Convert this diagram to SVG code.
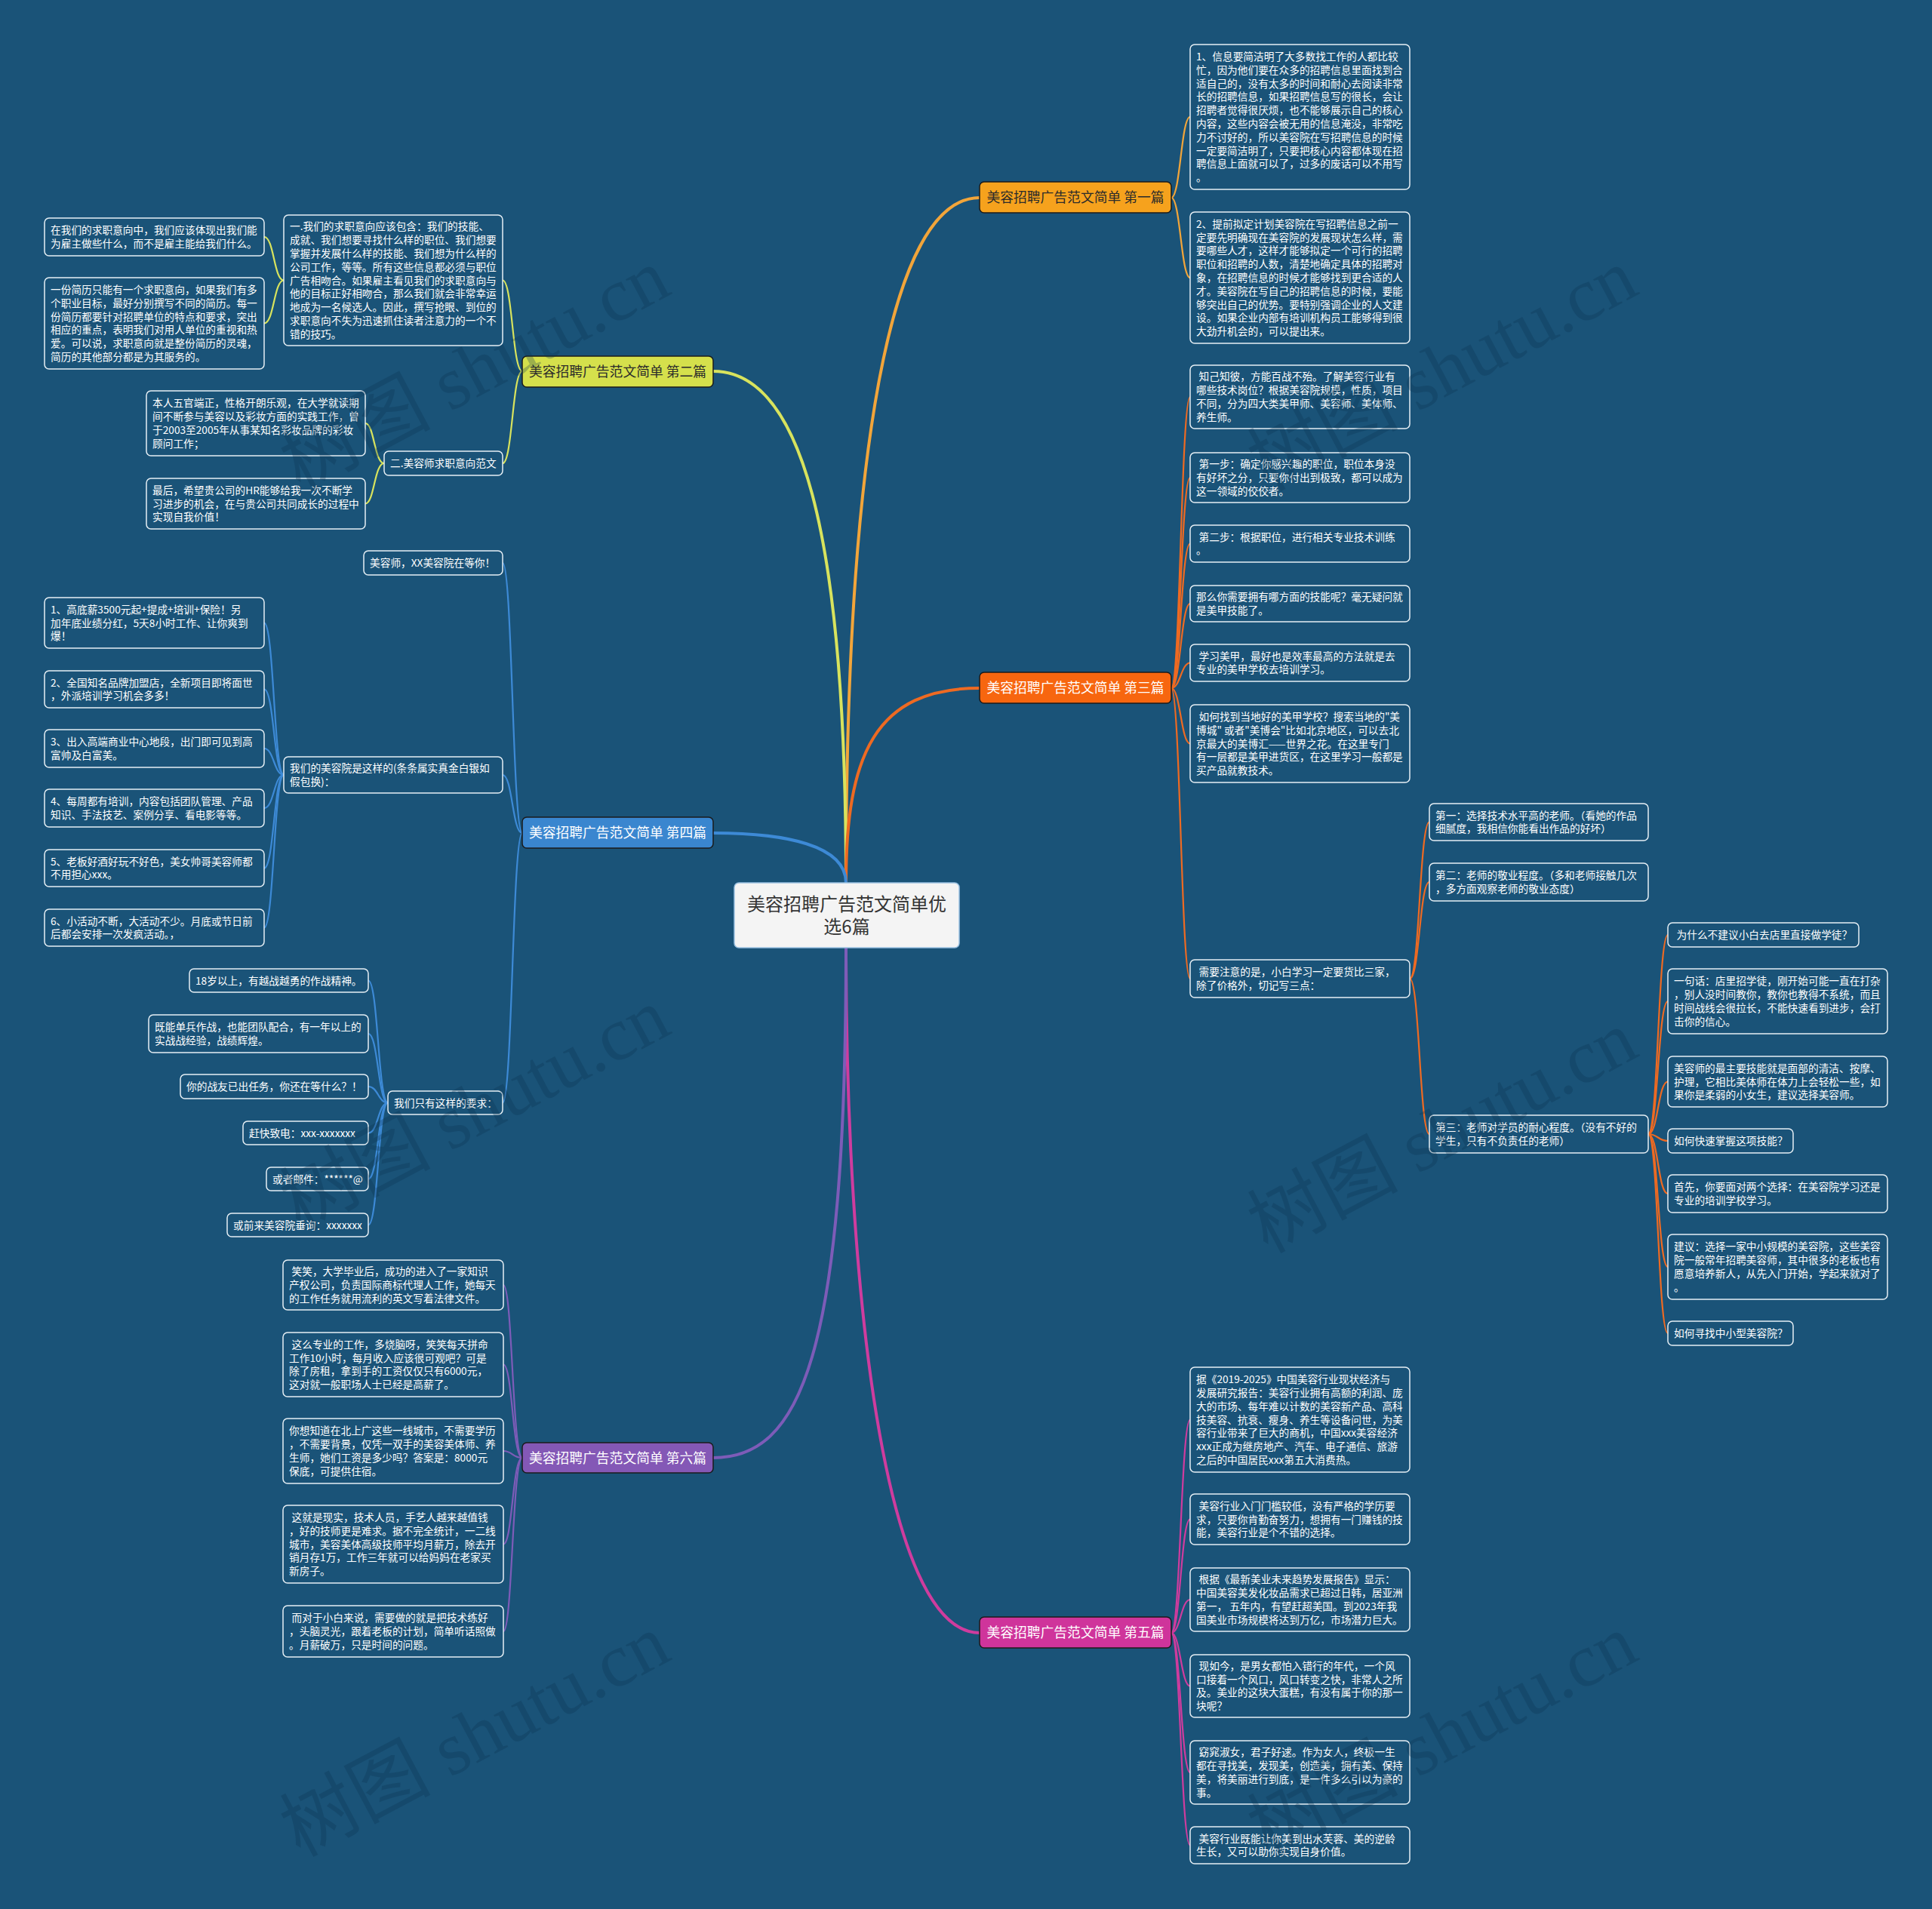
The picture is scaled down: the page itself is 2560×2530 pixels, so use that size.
<svg xmlns="http://www.w3.org/2000/svg" width="2560" height="2530" viewBox="0 0 2560 2530">
<style>
.t{font-family:"Noto Sans CJK SC","Microsoft YaHei",sans-serif;font-size:13.7px;fill:#ffffff}
.lf{fill:#1a5378;stroke:#e6eff5;stroke-width:1.5}
.br{stroke:#1b1b1b;stroke-width:1.5}
.bt{font-family:"Noto Sans CJK SC","Microsoft YaHei",sans-serif;font-size:17.8px;text-anchor:middle}
.ct{font-family:"Noto Sans CJK SC","Microsoft YaHei",sans-serif;font-size:24px;fill:#333333;text-anchor:middle}
#connectors path{fill:none;stroke-linecap:round}
.m{stroke-width:4}
.s{stroke-width:2.2}
.c1{stroke:#f2a53a}.c2{stroke:#d8e35d}.c3{stroke:#ee6a22}.c4{stroke:#3d8ad6}.c5{stroke:#cf3c9e}.c6{stroke:#7d5cb8}
.wm{font-family:"Liberation Serif","Noto Sans CJK SC",serif;font-size:100px;fill:#0c3350;fill-opacity:0.28}
</style>
<rect width="2560" height="2530" fill="#1a5378"/>

<g id="connectors">
<path class="m c1" d="M1121 1170 C1121 600 1180 262 1298 262"/>
<path class="m c2" d="M1121 1170 C1121 700 1060 492 945 492"/>
<path class="m c3" d="M1121 1170 C1121 1000 1160 912 1298 912"/>
<path class="m c4" d="M1121 1170 C1121 1120 1040 1104 945 1104"/>
<path class="m c5" d="M1121 1256 C1121 1700 1170 2164 1298 2164"/>
<path class="m c6" d="M1121 1256 C1121 1800 1060 1932 945 1932"/>

<path class="s c1" d="M1552 262 C1564 262 1565 155 1577 155"/>
<path class="s c1" d="M1552 262 C1564 262 1565 368 1577 368"/>

<path class="s c2" d="M692 492 C679 492 679 371.5 666 371.5"/>
<path class="s c2" d="M692 492 C679 492 679 614 666 614"/>
<path class="s c2" d="M376 371.5 C363 371.5 363 314 350 314"/>
<path class="s c2" d="M376 371.5 C363 371.5 363 428.5 350 428.5"/>
<path class="s c2" d="M509 614 C496 614 496 561 484 561"/>
<path class="s c2" d="M509 614 C496 614 496 667.5 484 667.5"/>

<path class="s c3" d="M1552 912 C1564 912 1565 526 1577 526"/>
<path class="s c3" d="M1552 912 C1564 912 1565 633 1577 633"/>
<path class="s c3" d="M1552 912 C1564 912 1565 720.5 1577 720.5"/>
<path class="s c3" d="M1552 912 C1564 912 1565 800 1577 800"/>
<path class="s c3" d="M1552 912 C1564 912 1565 878.5 1577 878.5"/>
<path class="s c3" d="M1552 912 C1564 912 1565 985.5 1577 985.5"/>
<path class="s c3" d="M1552 912 C1564 912 1565 1297 1577 1297"/>
<path class="s c3" d="M1868 1297 C1881 1297 1881 1089.5 1894 1089.5"/>
<path class="s c3" d="M1868 1297 C1881 1297 1881 1169 1894 1169"/>
<path class="s c3" d="M1868 1297 C1881 1297 1881 1503 1894 1503"/>
<path class="s c3" d="M2184 1503 C2197 1503 2197 1239 2210 1239"/>
<path class="s c3" d="M2184 1503 C2197 1503 2197 1327 2210 1327"/>
<path class="s c3" d="M2184 1503 C2197 1503 2197 1433.5 2210 1433.5"/>
<path class="s c3" d="M2184 1503 C2197 1503 2197 1512 2210 1512"/>
<path class="s c3" d="M2184 1503 C2197 1503 2197 1582 2210 1582"/>
<path class="s c3" d="M2184 1503 C2197 1503 2197 1679 2210 1679"/>
<path class="s c3" d="M2184 1503 C2197 1503 2197 1767 2210 1767"/>

<path class="s c4" d="M692 1104 C679 1104 679 746 666 746"/>
<path class="s c4" d="M692 1104 C679 1104 679 1027 666 1027"/>
<path class="s c4" d="M692 1104 C679 1104 679 1461.5 666 1461.5"/>
<path class="s c4" d="M376 1027 C363 1027 363 825.5 350 825.5"/>
<path class="s c4" d="M376 1027 C363 1027 363 913.5 350 913.5"/>
<path class="s c4" d="M376 1027 C363 1027 363 992 350 992"/>
<path class="s c4" d="M376 1027 C363 1027 363 1071 350 1071"/>
<path class="s c4" d="M376 1027 C363 1027 363 1150.5 350 1150.5"/>
<path class="s c4" d="M376 1027 C363 1027 363 1229.5 350 1229.5"/>
<path class="s c4" d="M514 1461.5 C501 1461.5 501 1299.5 488 1299.5"/>
<path class="s c4" d="M514 1461.5 C501 1461.5 501 1370 488 1370"/>
<path class="s c4" d="M514 1461.5 C501 1461.5 501 1440 488 1440"/>
<path class="s c4" d="M514 1461.5 C501 1461.5 501 1501.5 488 1501.5"/>
<path class="s c4" d="M514 1461.5 C501 1461.5 501 1562.5 488 1562.5"/>
<path class="s c4" d="M514 1461.5 C501 1461.5 501 1623.5 488 1623.5"/>

<path class="s c5" d="M1552 2164 C1564 2164 1565 1881.5 1577 1881.5"/>
<path class="s c5" d="M1552 2164 C1564 2164 1565 2013.5 1577 2013.5"/>
<path class="s c5" d="M1552 2164 C1564 2164 1565 2120 1577 2120"/>
<path class="s c5" d="M1552 2164 C1564 2164 1565 2234.5 1577 2234.5"/>
<path class="s c5" d="M1552 2164 C1564 2164 1565 2349 1577 2349"/>
<path class="s c5" d="M1552 2164 C1564 2164 1565 2445.5 1577 2445.5"/>

<path class="s c6" d="M692 1932 C679 1932 679 1703 667 1703"/>
<path class="s c6" d="M692 1932 C679 1932 679 1808.5 667 1808.5"/>
<path class="s c6" d="M692 1932 C679 1932 679 1923 667 1923"/>
<path class="s c6" d="M692 1932 C679 1932 679 2046.5 667 2046.5"/>
<path class="s c6" d="M692 1932 C679 1932 679 2162 667 2162"/>
</g>

<g id="center">
<rect x="973" y="1170" width="298" height="86" rx="6" fill="#f4f4f4" stroke="#9cc2e2" stroke-width="1.5"/>
<text class="ct" x="1122" y="1207">美容招聘广告范文简单优</text>
<text class="ct" x="1122" y="1237">选6篇</text>
</g>

<g id="branch1"><rect class="br" x="1298" y="241" width="254" height="41" rx="6" fill="#f6a21d"/><text class="bt" x="1425" y="268" fill="#2b2b2b">美容招聘广告范文简单 第一篇</text></g>
<g id="branch2"><rect class="br" x="692" y="472" width="253" height="41" rx="6" fill="#d5e04c"/><text class="bt" x="818.5" y="499" fill="#2b2b2b">美容招聘广告范文简单 第二篇</text></g>
<g id="branch3"><rect class="br" x="1298" y="891" width="254" height="41" rx="6" fill="#f7660f"/><text class="bt" x="1425" y="918" fill="#ffffff">美容招聘广告范文简单 第三篇</text></g>
<g id="branch4"><rect class="br" x="692" y="1083" width="253" height="41" rx="6" fill="#3a86cf"/><text class="bt" x="818.5" y="1110" fill="#ffffff">美容招聘广告范文简单 第四篇</text></g>
<g id="branch5"><rect class="br" x="1298" y="2143" width="254" height="41" rx="6" fill="#cf349b"/><text class="bt" x="1425" y="2170" fill="#ffffff">美容招聘广告范文简单 第五篇</text></g>
<g id="branch6"><rect class="br" x="692" y="1912" width="253" height="40" rx="6" fill="#8458b6"/><text class="bt" x="818.5" y="1938.5" fill="#ffffff">美容招聘广告范文简单 第六篇</text></g>

<g id="s1-a"><rect class="lf" x="1577" y="59" width="291" height="192" rx="6"/><text class="t"><tspan x="1585" y="79.9">1、信息要简洁明了大多数找工作的人都比较</tspan><tspan x="1585" y="97.7">忙，因为他们要在众多的招聘信息里面找到合</tspan><tspan x="1585" y="115.5">适自己的，没有太多的时间和耐心去阅读非常</tspan><tspan x="1585" y="133.3">长的招聘信息，如果招聘信息写的很长，会让</tspan><tspan x="1585" y="151.1">招聘者觉得很厌烦，也不能够展示自己的核心</tspan><tspan x="1585" y="168.9">内容，这些内容会被无用的信息淹没，非常吃</tspan><tspan x="1585" y="186.7">力不讨好的，所以美容院在写招聘信息的时候</tspan><tspan x="1585" y="204.5">一定要简洁明了，只要把核心内容都体现在招</tspan><tspan x="1585" y="222.3">聘信息上面就可以了，过多的废话可以不用写</tspan><tspan x="1585" y="240.1">。</tspan></text></g>
<g id="s1-b"><rect class="lf" x="1577" y="281" width="291" height="174" rx="6"/><text class="t"><tspan x="1585" y="301.8">2、提前拟定计划美容院在写招聘信息之前一</tspan><tspan x="1585" y="319.6">定要先明确现在美容院的发展现状怎么样，需</tspan><tspan x="1585" y="337.4">要哪些人才，这样才能够拟定一个可行的招聘</tspan><tspan x="1585" y="355.2">职位和招聘的人数，清楚地确定具体的招聘对</tspan><tspan x="1585" y="373">象，在招聘信息的时候才能够找到更合适的人</tspan><tspan x="1585" y="390.8">才。美容院在写自己的招聘信息的时候，要能</tspan><tspan x="1585" y="408.6">够突出自己的优势。要特别强调企业的人文建</tspan><tspan x="1585" y="426.4">设。如果企业内部有培训机构员工能够得到很</tspan><tspan x="1585" y="444.2">大劲升机会的，可以提出来。</tspan></text></g>

<g id="s3-c1"><rect class="lf" x="1577" y="484" width="291" height="84" rx="6"/><text class="t"><tspan x="1588.5" y="504.3">知己知彼，方能百战不殆。了解美容行业有</tspan><tspan x="1585" y="522.1">哪些技术岗位？根据美容院规模，性质，项目</tspan><tspan x="1585" y="539.9">不同，分为四大类美甲师、美容师、美体师、</tspan><tspan x="1585" y="557.7">养生师。</tspan></text></g>
<g id="s3-c2"><rect class="lf" x="1577" y="600" width="291" height="66" rx="6"/><text class="t"><tspan x="1588.5" y="620.2">第一步：确定你感兴趣的职位，职位本身没</tspan><tspan x="1585" y="638">有好坏之分，只要你付出到极致，都可以成为</tspan><tspan x="1585" y="655.8">这一领域的佼佼者。</tspan></text></g>
<g id="s3-c3"><rect class="lf" x="1577" y="696" width="291" height="49" rx="6"/><text class="t"><tspan x="1588.5" y="716.6">第二步：根据职位，进行相关专业技术训练</tspan><tspan x="1585" y="734.4">。</tspan></text></g>
<g id="s3-c4"><rect class="lf" x="1577" y="776" width="291" height="48" rx="6"/><text class="t"><tspan x="1585" y="796.1">那么你需要拥有哪方面的技能呢？毫无疑问就</tspan><tspan x="1585" y="813.9">是美甲技能了。</tspan></text></g>
<g id="s3-c5"><rect class="lf" x="1577" y="854" width="291" height="49" rx="6"/><text class="t"><tspan x="1588.5" y="874.6">学习美甲，最好也是效率最高的方法就是去</tspan><tspan x="1585" y="892.4">专业的美甲学校去培训学习。</tspan></text></g>
<g id="s3-c6"><rect class="lf" x="1577" y="934" width="291" height="103" rx="6"/><text class="t"><tspan x="1588.5" y="954.9">如何找到当地好的美甲学校？搜索当地的"美</tspan><tspan x="1585" y="972.7">博城" 或者"美博会"比如北京地区，可以去北</tspan><tspan x="1585" y="990.5">京最大的美博汇——世界之花。在这里专门</tspan><tspan x="1585" y="1008.3">有一层都是美甲进货区，在这里学习一般都是</tspan><tspan x="1585" y="1026.1">买产品就教技术。</tspan></text></g>
<g id="s3-note"><rect class="lf" x="1577" y="1272" width="291" height="50" rx="6"/><text class="t"><tspan x="1588.5" y="1293.1">需要注意的是，小白学习一定要货比三家，</tspan><tspan x="1585" y="1310.9">除了价格外，切记写三点：</tspan></text></g>
<g id="s3-t1"><rect class="lf" x="1894" y="1065" width="290" height="49" rx="6"/><text class="t"><tspan x="1902" y="1085.6">第一：选择技术水平高的老师。（看她的作品</tspan><tspan x="1902" y="1103.4">细腻度，我相信你能看出作品的好坏）</tspan></text></g>
<g id="s3-t2"><rect class="lf" x="1894" y="1144" width="290" height="50" rx="6"/><text class="t"><tspan x="1902" y="1165.1">第二：老师的敬业程度。（多和老师接触几次</tspan><tspan x="1902" y="1182.9">，多方面观察老师的敬业态度）</tspan></text></g>
<g id="s3-t3"><rect class="lf" x="1894" y="1478" width="290" height="50" rx="6"/><text class="t"><tspan x="1902" y="1499.1">第三：老师对学员的耐心程度。（没有不好的</tspan><tspan x="1902" y="1516.9">学生，只有不负责任的老师）</tspan></text></g>
<g id="s3-r1"><rect class="lf" x="2210" y="1223" width="253" height="32" rx="6"/><text class="t"><tspan x="2221.5" y="1244">为什么不建议小白去店里直接做学徒？</tspan></text></g>
<g id="s3-r2"><rect class="lf" x="2210" y="1284" width="291" height="86" rx="6"/><text class="t"><tspan x="2218" y="1305.3">一句话：店里招学徒，刚开始可能一直在打杂</tspan><tspan x="2218" y="1323.1">，别人没时间教你，教你也教得不系统，而且</tspan><tspan x="2218" y="1340.9">时间战线会很拉长，不能快速看到进步，会打</tspan><tspan x="2218" y="1358.7">击你的信心。</tspan></text></g>
<g id="s3-r3"><rect class="lf" x="2210" y="1400" width="291" height="67" rx="6"/><text class="t"><tspan x="2218" y="1420.7">美容师的最主要技能就是面部的清洁、按摩、</tspan><tspan x="2218" y="1438.5">护理，它相比美体师在体力上会轻松一些，如</tspan><tspan x="2218" y="1456.3">果你是柔弱的小女生，建议选择美容师。</tspan></text></g>
<g id="s3-r4"><rect class="lf" x="2210" y="1496" width="166" height="32" rx="6"/><text class="t"><tspan x="2218" y="1517">如何快速掌握这项技能？</tspan></text></g>
<g id="s3-r5"><rect class="lf" x="2210" y="1557" width="291" height="50" rx="6"/><text class="t"><tspan x="2218" y="1578.1">首先，你要面对两个选择：在美容院学习还是</tspan><tspan x="2218" y="1595.9">专业的培训学校学习。</tspan></text></g>
<g id="s3-r6"><rect class="lf" x="2210" y="1636" width="291" height="86" rx="6"/><text class="t"><tspan x="2218" y="1657.3">建议：选择一家中小规模的美容院，这些美容</tspan><tspan x="2218" y="1675.1">院一般常年招聘美容师，其中很多的老板也有</tspan><tspan x="2218" y="1692.9">愿意培养新人，从先入门开始，学起来就对了</tspan><tspan x="2218" y="1710.7">。</tspan></text></g>
<g id="s3-r7"><rect class="lf" x="2210" y="1751" width="166" height="32" rx="6"/><text class="t"><tspan x="2218" y="1772">如何寻找中小型美容院？</tspan></text></g>

<g id="s5-f1"><rect class="lf" x="1577" y="1812" width="291" height="139" rx="6"/><text class="t"><tspan x="1585" y="1833.1">据《2019-2025》中国美容行业现状经济与</tspan><tspan x="1585" y="1850.9">发展研究报告：美容行业拥有高额的利润、庞</tspan><tspan x="1585" y="1868.7">大的市场、每年难以计数的美容新产品、高科</tspan><tspan x="1585" y="1886.5">技美容、抗衰、瘦身、养生等设备问世，为美</tspan><tspan x="1585" y="1904.3">容行业带来了巨大的商机，中国xxx美容经济</tspan><tspan x="1585" y="1922.1">xxx正成为继房地产、汽车、电子通信、旅游</tspan><tspan x="1585" y="1939.9">之后的中国居民xxx第五大消费热。</tspan></text></g>
<g id="s5-f2"><rect class="lf" x="1577" y="1980" width="291" height="67" rx="6"/><text class="t"><tspan x="1588.5" y="2000.7">美容行业入门门槛较低，没有严格的学历要</tspan><tspan x="1585" y="2018.5">求，只要你肯勤奋努力，想拥有一门赚钱的技</tspan><tspan x="1585" y="2036.3">能，美容行业是个不错的选择。</tspan></text></g>
<g id="s5-f3"><rect class="lf" x="1577" y="2078" width="291" height="84" rx="6"/><text class="t"><tspan x="1588.5" y="2098.3">根据《最新美业未来趋势发展报告》显示：</tspan><tspan x="1585" y="2116.1">中国美容美发化妆品需求已超过日韩，居亚洲</tspan><tspan x="1585" y="2133.9">第一， 五年内，有望赶超美国。到2023年我</tspan><tspan x="1585" y="2151.7">国美业市场规模将达到万亿，市场潜力巨大。</tspan></text></g>
<g id="s5-f4"><rect class="lf" x="1577" y="2193" width="291" height="83" rx="6"/><text class="t"><tspan x="1588.5" y="2212.8">现如今，是男女都怕入错行的年代，一个风</tspan><tspan x="1585" y="2230.6">口接着一个风口，风口转变之快，非常人之所</tspan><tspan x="1585" y="2248.4">及。美业的这块大蛋糕，有没有属于你的那一</tspan><tspan x="1585" y="2266.2">块呢？</tspan></text></g>
<g id="s5-f5"><rect class="lf" x="1577" y="2307" width="291" height="84" rx="6"/><text class="t"><tspan x="1588.5" y="2327.3">窈窕淑女，君子好逑。作为女人，终极一生</tspan><tspan x="1585" y="2345.1">都在寻找美，发现美，创造美，拥有美、保持</tspan><tspan x="1585" y="2362.9">美，将美丽进行到底，是一件多么引以为豪的</tspan><tspan x="1585" y="2380.7">事。</tspan></text></g>
<g id="s5-f6"><rect class="lf" x="1577" y="2421" width="291" height="49" rx="6"/><text class="t"><tspan x="1588.5" y="2441.6">美容行业既能让你美到出水芙蓉、美的逆龄</tspan><tspan x="1585" y="2459.4">生长，又可以助你实现自身价值。</tspan></text></g>

<g id="s2-l3"><rect class="lf" x="376" y="285" width="290" height="173" rx="6"/><text class="t"><tspan x="384" y="305.3">一.我们的求职意向应该包含：我们的技能、</tspan><tspan x="384" y="323.1">成就、我们想要寻找什么样的职位、我们想要</tspan><tspan x="384" y="340.9">掌握并发展什么样的技能、我们想为什么样的</tspan><tspan x="384" y="358.7">公司工作，等等。所有这些信息都必须与职位</tspan><tspan x="384" y="376.5">广告相吻合。如果雇主看见我们的求职意向与</tspan><tspan x="384" y="394.3">他的目标正好相吻合，那么我们就会非常幸运</tspan><tspan x="384" y="412.1">地成为一名候选人。因此，撰写抢眼、到位的</tspan><tspan x="384" y="429.9">求职意向不失为迅速抓住读者注意力的一个不</tspan><tspan x="384" y="447.7">错的技巧。</tspan></text></g>
<g id="s2-l1"><rect class="lf" x="59" y="289" width="291" height="50" rx="6"/><text class="t"><tspan x="67" y="310.1">在我们的求职意向中，我们应该体现出我们能</tspan><tspan x="67" y="327.9">为雇主做些什么，而不是雇主能给我们什么。</tspan></text></g>
<g id="s2-l2"><rect class="lf" x="59" y="368" width="291" height="121" rx="6"/><text class="t"><tspan x="67" y="389">一份简历只能有一个求职意向，如果我们有多</tspan><tspan x="67" y="406.8">个职业目标，最好分别撰写不同的简历。每一</tspan><tspan x="67" y="424.6">份简历都要针对招聘单位的特点和要求，突出</tspan><tspan x="67" y="442.4">相应的重点，表明我们对用人单位的重视和热</tspan><tspan x="67" y="460.2">爱。可以说，求职意向就是整份简历的灵魂，</tspan><tspan x="67" y="478">简历的其他部分都是为其服务的。</tspan></text></g>
<g id="s2-l4"><rect class="lf" x="509" y="598" width="157" height="32" rx="6"/><text class="t"><tspan x="517" y="619">二.美容师求职意向范文</tspan></text></g>
<g id="s2-l5"><rect class="lf" x="194" y="518" width="290" height="86" rx="6"/><text class="t"><tspan x="202" y="539.3">本人五官端正，性格开朗乐观，在大学就读期</tspan><tspan x="202" y="557.1">间不断参与美容以及彩妆方面的实践工作，曾</tspan><tspan x="202" y="574.9">于2003至2005年从事某知名彩妆品牌的彩妆</tspan><tspan x="202" y="592.7">顾问工作；</tspan></text></g>
<g id="s2-l6"><rect class="lf" x="194" y="634" width="290" height="67" rx="6"/><text class="t"><tspan x="202" y="654.7">最后，希望贵公司的HR能够给我一次不断学</tspan><tspan x="202" y="672.5">习进步的机会，在与贵公司共同成长的过程中</tspan><tspan x="202" y="690.3">实现自我价值！</tspan></text></g>

<g id="s4-m0"><rect class="lf" x="482" y="730" width="184" height="32" rx="6"/><text class="t"><tspan x="490" y="751">美容师，XX美容院在等你！</tspan></text></g>
<g id="s4-m1"><rect class="lf" x="376" y="1003" width="290" height="48" rx="6"/><text class="t"><tspan x="384" y="1023.1">我们的美容院是这样的(条条属实真金白银如</tspan><tspan x="384" y="1040.9">假包换)：</tspan></text></g>
<g id="s4-n1"><rect class="lf" x="59" y="792" width="291" height="67" rx="6"/><text class="t"><tspan x="67" y="812.7">1、高底薪3500元起+提成+培训+保险！另</tspan><tspan x="67" y="830.5">加年底业绩分红，5天8小时工作、让你爽到</tspan><tspan x="67" y="848.3">爆！</tspan></text></g>
<g id="s4-n2"><rect class="lf" x="59" y="889" width="291" height="49" rx="6"/><text class="t"><tspan x="67" y="909.6">2、全国知名品牌加盟店，全新项目即将面世</tspan><tspan x="67" y="927.4">，外派培训学习机会多多！</tspan></text></g>
<g id="s4-n3"><rect class="lf" x="59" y="967" width="291" height="50" rx="6"/><text class="t"><tspan x="67" y="988.1">3、出入高端商业中心地段，出门即可见到高</tspan><tspan x="67" y="1005.9">富帅及白富美。</tspan></text></g>
<g id="s4-n4"><rect class="lf" x="59" y="1046" width="291" height="50" rx="6"/><text class="t"><tspan x="67" y="1067.1">4、每周都有培训，内容包括团队管理、产品</tspan><tspan x="67" y="1084.9">知识、手法技艺、案例分享、看电影等等。</tspan></text></g>
<g id="s4-n5"><rect class="lf" x="59" y="1126" width="291" height="49" rx="6"/><text class="t"><tspan x="67" y="1146.6">5、老板好酒好玩不好色，美女帅哥美容师都</tspan><tspan x="67" y="1164.4">不用担心xxx。</tspan></text></g>
<g id="s4-n6"><rect class="lf" x="59" y="1205" width="291" height="49" rx="6"/><text class="t"><tspan x="67" y="1225.6">6、小活动不断，大活动不少。月底或节日前</tspan><tspan x="67" y="1243.4">后都会安排一次发疯活动。，</tspan></text></g>
<g id="s4-q0"><rect class="lf" x="514" y="1446" width="152" height="31" rx="6"/><text class="t"><tspan x="522" y="1466.5">我们只有这样的要求：</tspan></text></g>
<g id="s4-q1"><rect class="lf" x="251" y="1284" width="237" height="31" rx="6"/><text class="t"><tspan x="259" y="1304.5">18岁以上，有越战越勇的作战精神。</tspan></text></g>
<g id="s4-q2"><rect class="lf" x="197" y="1345" width="291" height="50" rx="6"/><text class="t"><tspan x="205" y="1366.1">既能单兵作战，也能团队配合，有一年以上的</tspan><tspan x="205" y="1383.9">实战战经验，战绩辉煌。</tspan></text></g>
<g id="s4-q3"><rect class="lf" x="239" y="1424" width="249" height="32" rx="6"/><text class="t"><tspan x="247" y="1445">你的战友已出任务，你还在等什么？！</tspan></text></g>
<g id="s4-q4"><rect class="lf" x="322" y="1486" width="166" height="31" rx="6"/><text class="t"><tspan x="330" y="1506.5">赶快致电：xxx-xxxxxxx</tspan></text></g>
<g id="s4-q5"><rect class="lf" x="353" y="1547" width="135" height="31" rx="6"/><text class="t"><tspan x="361" y="1567.5">或者邮件：******@</tspan></text></g>
<g id="s4-q6"><rect class="lf" x="301" y="1608" width="187" height="31" rx="6"/><text class="t"><tspan x="309" y="1628.5">或前来美容院垂询：xxxxxxx</tspan></text></g>

<g id="s6-s1"><rect class="lf" x="375" y="1670" width="292" height="66" rx="6"/><text class="t"><tspan x="386.5" y="1690.2">笑笑，大学毕业后，成功的进入了一家知识</tspan><tspan x="383" y="1708">产权公司，负责国际商标代理人工作，她每天</tspan><tspan x="383" y="1725.8">的工作任务就用流利的英文写着法律文件。</tspan></text></g>
<g id="s6-s2"><rect class="lf" x="375" y="1766" width="292" height="85" rx="6"/><text class="t"><tspan x="386.5" y="1786.8">这么专业的工作，多烧脑呀，笑笑每天拼命</tspan><tspan x="383" y="1804.6">工作10小时，每月收入应该很可观吧？可是</tspan><tspan x="383" y="1822.4">除了房租，拿到手的工资仅仅只有6000元，</tspan><tspan x="383" y="1840.2">这对就一般职场人士已经是高薪了。</tspan></text></g>
<g id="s6-s3"><rect class="lf" x="375" y="1880" width="292" height="86" rx="6"/><text class="t"><tspan x="383" y="1901.3">你想知道在北上广这些一线城市，不需要学历</tspan><tspan x="383" y="1919.1">，不需要背景，仅凭一双手的美容美体师、养</tspan><tspan x="383" y="1936.9">生师，她们工资是多少吗？答案是：8000元</tspan><tspan x="383" y="1954.7">保底，可提供住宿。</tspan></text></g>
<g id="s6-s4"><rect class="lf" x="375" y="1995" width="292" height="103" rx="6"/><text class="t"><tspan x="386.5" y="2015.9">这就是现实，技术人员，手艺人越来越值钱</tspan><tspan x="383" y="2033.7">，好的技师更是难求。据不完全统计，一二线</tspan><tspan x="383" y="2051.5">城市，美容美体高级技师平均月薪万，除去开</tspan><tspan x="383" y="2069.3">销月存1万，工作三年就可以给妈妈在老家买</tspan><tspan x="383" y="2087.1">新房子。</tspan></text></g>
<g id="s6-s5"><rect class="lf" x="375" y="2128" width="292" height="68" rx="6"/><text class="t"><tspan x="386.5" y="2149.2">而对于小白来说，需要做的就是把技术练好</tspan><tspan x="383" y="2167">，头脑灵光，跟着老板的计划，简单听话照做</tspan><tspan x="383" y="2184.8">。月薪破万，只是时间的问题。</tspan></text></g>

<g id="watermarks">
<text class="wm" transform="translate(645 520) rotate(-28)" text-anchor="middle">树图 shutu.cn</text>
<text class="wm" transform="translate(1927 520) rotate(-28)" text-anchor="middle">树图 shutu.cn</text>
<text class="wm" transform="translate(645 1500) rotate(-28)" text-anchor="middle">树图 shutu.cn</text>
<text class="wm" transform="translate(1927 1530) rotate(-28)" text-anchor="middle">树图 shutu.cn</text>
<text class="wm" transform="translate(645 2330) rotate(-28)" text-anchor="middle">树图 shutu.cn</text>
<text class="wm" transform="translate(1927 2330) rotate(-28)" text-anchor="middle">树图 shutu.cn</text>
</g>
</svg>
